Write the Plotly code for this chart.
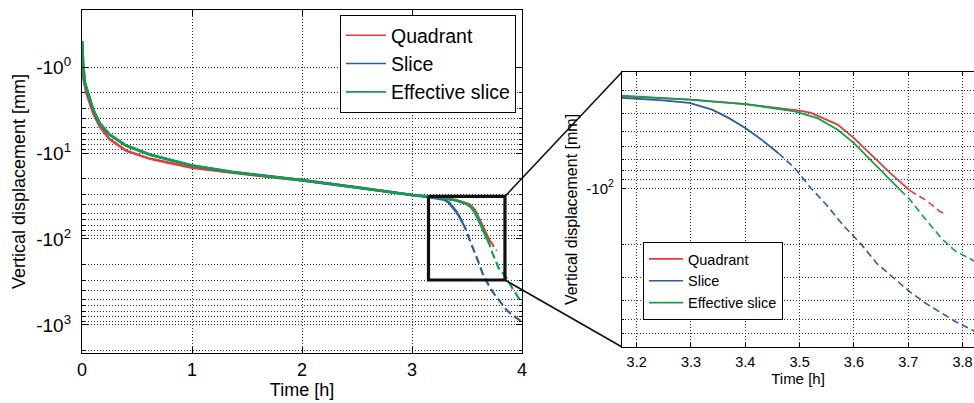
import math
import plotly.graph_objects as go

# ---------------- data (magnitude of vertical displacement, mm) ----------------
quad_t = [0.002, 0.01, 0.04, 0.1, 0.16, 0.25, 0.4, 0.62, 1.0, 1.37, 2.0, 2.5, 3.0,
          3.173, 3.3, 3.4, 3.5, 3.521, 3.57, 3.6, 3.63, 3.667, 3.703, 3.733, 3.758, 3.77]
quad_v = [1.0, 1.3, 2.0, 3.4, 4.9, 6.9, 9.4, 11.7, 14.8, 17.0, 20.8, 25.0, 30.8,
          32.3, 33.6, 35.5, 38.5, 39.6, 45.7, 54.0, 65.7, 83.0, 103.0, 116.0, 133.0, 137.0]

slice_t = [0.002, 0.01, 0.025, 0.055, 0.1, 0.16, 0.25, 0.4, 0.62, 1.0, 1.37, 2.0, 2.5, 3.0,
           3.173, 3.248, 3.297, 3.339, 3.37, 3.4, 3.43, 3.461, 3.491, 3.521, 3.552, 3.582,
           3.612, 3.642, 3.673, 3.703, 3.733, 3.764, 3.788, 3.813, 3.86, 3.9, 3.95, 4.0]
slice_v = [0.5, 0.9, 1.5, 2.0, 3.1, 4.5, 6.1, 8.2, 10.5, 14.0, 16.6, 20.7, 25.0, 30.8,
           33.0, 33.9, 35.0, 38.0, 42.2, 47.7, 55.0, 65.0, 78.0, 100.0, 125.0, 160.0,
           197.0, 252.0, 303.0, 358.0, 413.0, 468.0, 518.0, 562.0, 670.0, 745.0, 830.0, 922.0]

eff_t = [0.002, 0.01, 0.025, 0.055, 0.1, 0.16, 0.25, 0.4, 0.62, 1.0, 1.37, 2.0, 2.5, 3.0,
         3.173, 3.297, 3.4, 3.491, 3.533, 3.57, 3.6, 3.63, 3.661, 3.685, 3.703, 3.733,
         3.764, 3.788, 3.813, 3.86, 3.91, 3.96, 4.0]
eff_v = [0.5, 0.9, 1.5, 2.0, 3.1, 4.5, 6.1, 8.2, 10.5, 14.0, 16.6, 20.7, 25.0, 30.8,
         32.0, 33.6, 35.5, 38.8, 42.2, 48.7, 57.4, 70.4, 86.6, 102.0, 115.0, 148.0,
         189.0, 218.0, 237.0, 285.0, 370.0, 470.0, 560.0]

series_names = ["Quadrant", "Slice", "Effective slice"]
series_t = [quad_t, slice_t, eff_t]
series_v = [quad_v, slice_v, eff_v]
dash_from = [3.703, 3.461, 3.685]          # time where each curve turns dashed

main_xticks = [0, 1, 2, 3, 4]
main_yticks = [1, 10, 100, 1000]
main_yticktext = ["-10<sup>0</sup>", "-10<sup>1</sup>", "-10<sup>2</sup>", "-10<sup>3</sup>"]
inset_xticks = [3.2, 3.3, 3.4, 3.5, 3.6, 3.7, 3.8]
inset_yticks = [100]
inset_yticktext = ["-10<sup>2</sup>"]

zoom_t = [3.15, 3.845]
zoom_v = [32.0, 300.0]

# ---------------- styling ----------------
colors = ["#e8393e", "#2b5cab", "#0da14c"]
FONT = "Liberation Sans, Arial, sans-serif"
W, H = 974, 403
main_xdom = [82 / W, 522 / W]
main_ydom = [1 - 353 / H, 1 - 10 / H]
ins_xdom = [622 / W, 1.0]
ins_ydom = [1 - 347 / H, 1 - 72 / H]
main_xrange = [0, 4]
main_yrange = [3.326, -0.663]
ins_xrange = [3.173, 3.821]
ins_yrange = [2.848, 1.379]

GRID = "#333333"
GDASH = "1px,2px"

fig = go.Figure()


def split(t, v, tcut):
    a = [(x, y) for x, y in zip(t, v) if x <= tcut]
    b = [(x, y) for x, y in zip(t, v) if x >= tcut]
    return a, b


for name, t, v, c, td in zip(series_names, series_t, series_v, colors, dash_from):
    solid, dashed = split(t, v, td)
    fig.add_trace(go.Scatter(x=[p[0] for p in solid], y=[p[1] for p in solid], mode="lines",
                             name=name, showlegend=False, line=dict(color=c, width=2.6),
                             xaxis="x", yaxis="y"))
    fig.add_trace(go.Scatter(x=[p[0] for p in dashed], y=[p[1] for p in dashed], mode="lines",
                             name=name, showlegend=False,
                             line=dict(color=c, width=2.2, dash="8px,4px"),
                             xaxis="x", yaxis="y"))

for name, t, v, c, td in zip(series_names, series_t, series_v, colors, dash_from):
    solid, dashed = split(t, v, td)
    fig.add_trace(go.Scatter(x=[p[0] for p in solid], y=[p[1] for p in solid], mode="lines",
                             name=name, showlegend=False, line=dict(color=c, width=1.8),
                             xaxis="x2", yaxis="y2"))
    fig.add_trace(go.Scatter(x=[p[0] for p in dashed], y=[p[1] for p in dashed], mode="lines",
                             name=name, showlegend=False,
                             line=dict(color=c, width=1.6, dash="7px,4px"),
                             xaxis="x2", yaxis="y2"))

# legend entries (thin sample lines, as in the reference)
for name, c in zip(series_names, colors):
    fig.add_trace(go.Scatter(x=[None], y=[None], mode="lines", name=name, legend="legend",
                             line=dict(color=c, width=1.6), xaxis="x", yaxis="y"))
for name, c in zip(series_names, colors):
    fig.add_trace(go.Scatter(x=[None], y=[None], mode="lines", name=name, legend="legend2",
                             line=dict(color=c, width=1.6), xaxis="x2", yaxis="y2"))

# zoom rectangle on main axes
fig.add_trace(go.Scatter(x=[zoom_t[0], zoom_t[1], zoom_t[1], zoom_t[0], zoom_t[0]],
                         y=[zoom_v[0], zoom_v[0], zoom_v[1], zoom_v[1], zoom_v[0]],
                         mode="lines", line=dict(color="#111", width=3.2),
                         showlegend=False, hoverinfo="skip", xaxis="x", yaxis="y"))


def main_to_paper(t, v):
    px = main_xdom[0] + (t - main_xrange[0]) / (main_xrange[1] - main_xrange[0]) * (main_xdom[1] - main_xdom[0])
    py = main_ydom[0] + (math.log10(v) - main_yrange[0]) / (main_yrange[1] - main_yrange[0]) * (main_ydom[1] - main_ydom[0])
    return px, py


p_top = main_to_paper(zoom_t[1], zoom_v[0])
p_bot = main_to_paper(zoom_t[1], zoom_v[1])
fig.add_shape(type="line", xref="paper", yref="paper", x0=p_top[0], y0=p_top[1],
              x1=ins_xdom[0], y1=ins_ydom[1], line=dict(color="#111", width=1.6))
fig.add_shape(type="line", xref="paper", yref="paper", x0=p_bot[0], y0=p_bot[1],
              x1=ins_xdom[0], y1=ins_ydom[0], line=dict(color="#111", width=1.6))

decade_minor = [m * 10 ** k for k in range(0, 4) for m in range(2, 10)]
main_minor = [x for x in decade_minor if x <= 2000]
ins_minor = [x for x in decade_minor if 20 <= x <= 700]

axis_common = dict(showline=True, linecolor="black", linewidth=1.3, ticks="inside",
                   tickcolor="black", zeroline=False, automargin=False,
                   showgrid=True, gridcolor=GRID, griddash=GDASH, gridwidth=1)

fig.update_layout(
    width=W, height=H, template="none",
    margin=dict(l=0, r=0, t=0, b=0),
    paper_bgcolor="white", plot_bgcolor="white",
    font=dict(family=FONT, color="black"),
    showlegend=True,
    xaxis=dict(domain=main_xdom, range=main_xrange, anchor="y", tickvals=main_xticks,
               ticklen=6, mirror="allticks", tickfont=dict(size=18), ticklabelstandoff=0,
               title=dict(text="Time [h]", font=dict(size=18), standoff=4), **axis_common),
    yaxis=dict(domain=main_ydom, type="log", range=main_yrange, anchor="x",
               tickvals=main_yticks, ticktext=main_yticktext, ticklen=6, mirror="allticks",
               tickfont=dict(size=19), ticklabelstandoff=6,
               minor=dict(tickvals=main_minor, ticks="inside", ticklen=3, tickcolor="black",
                          showgrid=True, gridcolor=GRID, griddash=GDASH, gridwidth=1),
               title=dict(text="Vertical displacement [mm]", font=dict(size=18), standoff=5),
               **axis_common),
    xaxis2=dict(domain=ins_xdom, range=ins_xrange, anchor="y2", tickvals=inset_xticks,
                tickformat=".1f", ticklen=4, mirror="allticks", tickfont=dict(size=14.5),
                ticklabelstandoff=1, ticklabeloverflow="allow",
                title=dict(text="Time [h]", font=dict(size=15), standoff=3), **axis_common),
    yaxis2=dict(domain=ins_ydom, type="log", range=ins_yrange, anchor="x2",
                tickvals=inset_yticks, ticktext=inset_yticktext, ticklen=4, mirror=False,
                tickfont=dict(size=15), ticklabelstandoff=4,
                minor=dict(tickvals=ins_minor, ticks="inside", ticklen=2, tickcolor="black",
                           showgrid=True, gridcolor=GRID, griddash=GDASH, gridwidth=1),
                title=dict(text="Vertical displacement [mm]", font=dict(size=16), standoff=4),
                **axis_common),
    legend=dict(x=516 / W, xanchor="right", y=1 - 15 / H, yanchor="top",
                bordercolor="black", borderwidth=1, bgcolor="white",
                font=dict(size=19.5, family=FONT), tracegroupgap=0, itemwidth=40),
    legend2=dict(x=643 / W, xanchor="left", y=1 - 242 / H, yanchor="top",
                 bordercolor="black", borderwidth=1, bgcolor="white",
                 font=dict(size=14.5, family=FONT), tracegroupgap=0, itemwidth=34),
)

fig.write_html("out.html", config={"displayModeBar": False},
               post_script="document.body.style.margin='0';document.body.style.overflow='hidden';")
